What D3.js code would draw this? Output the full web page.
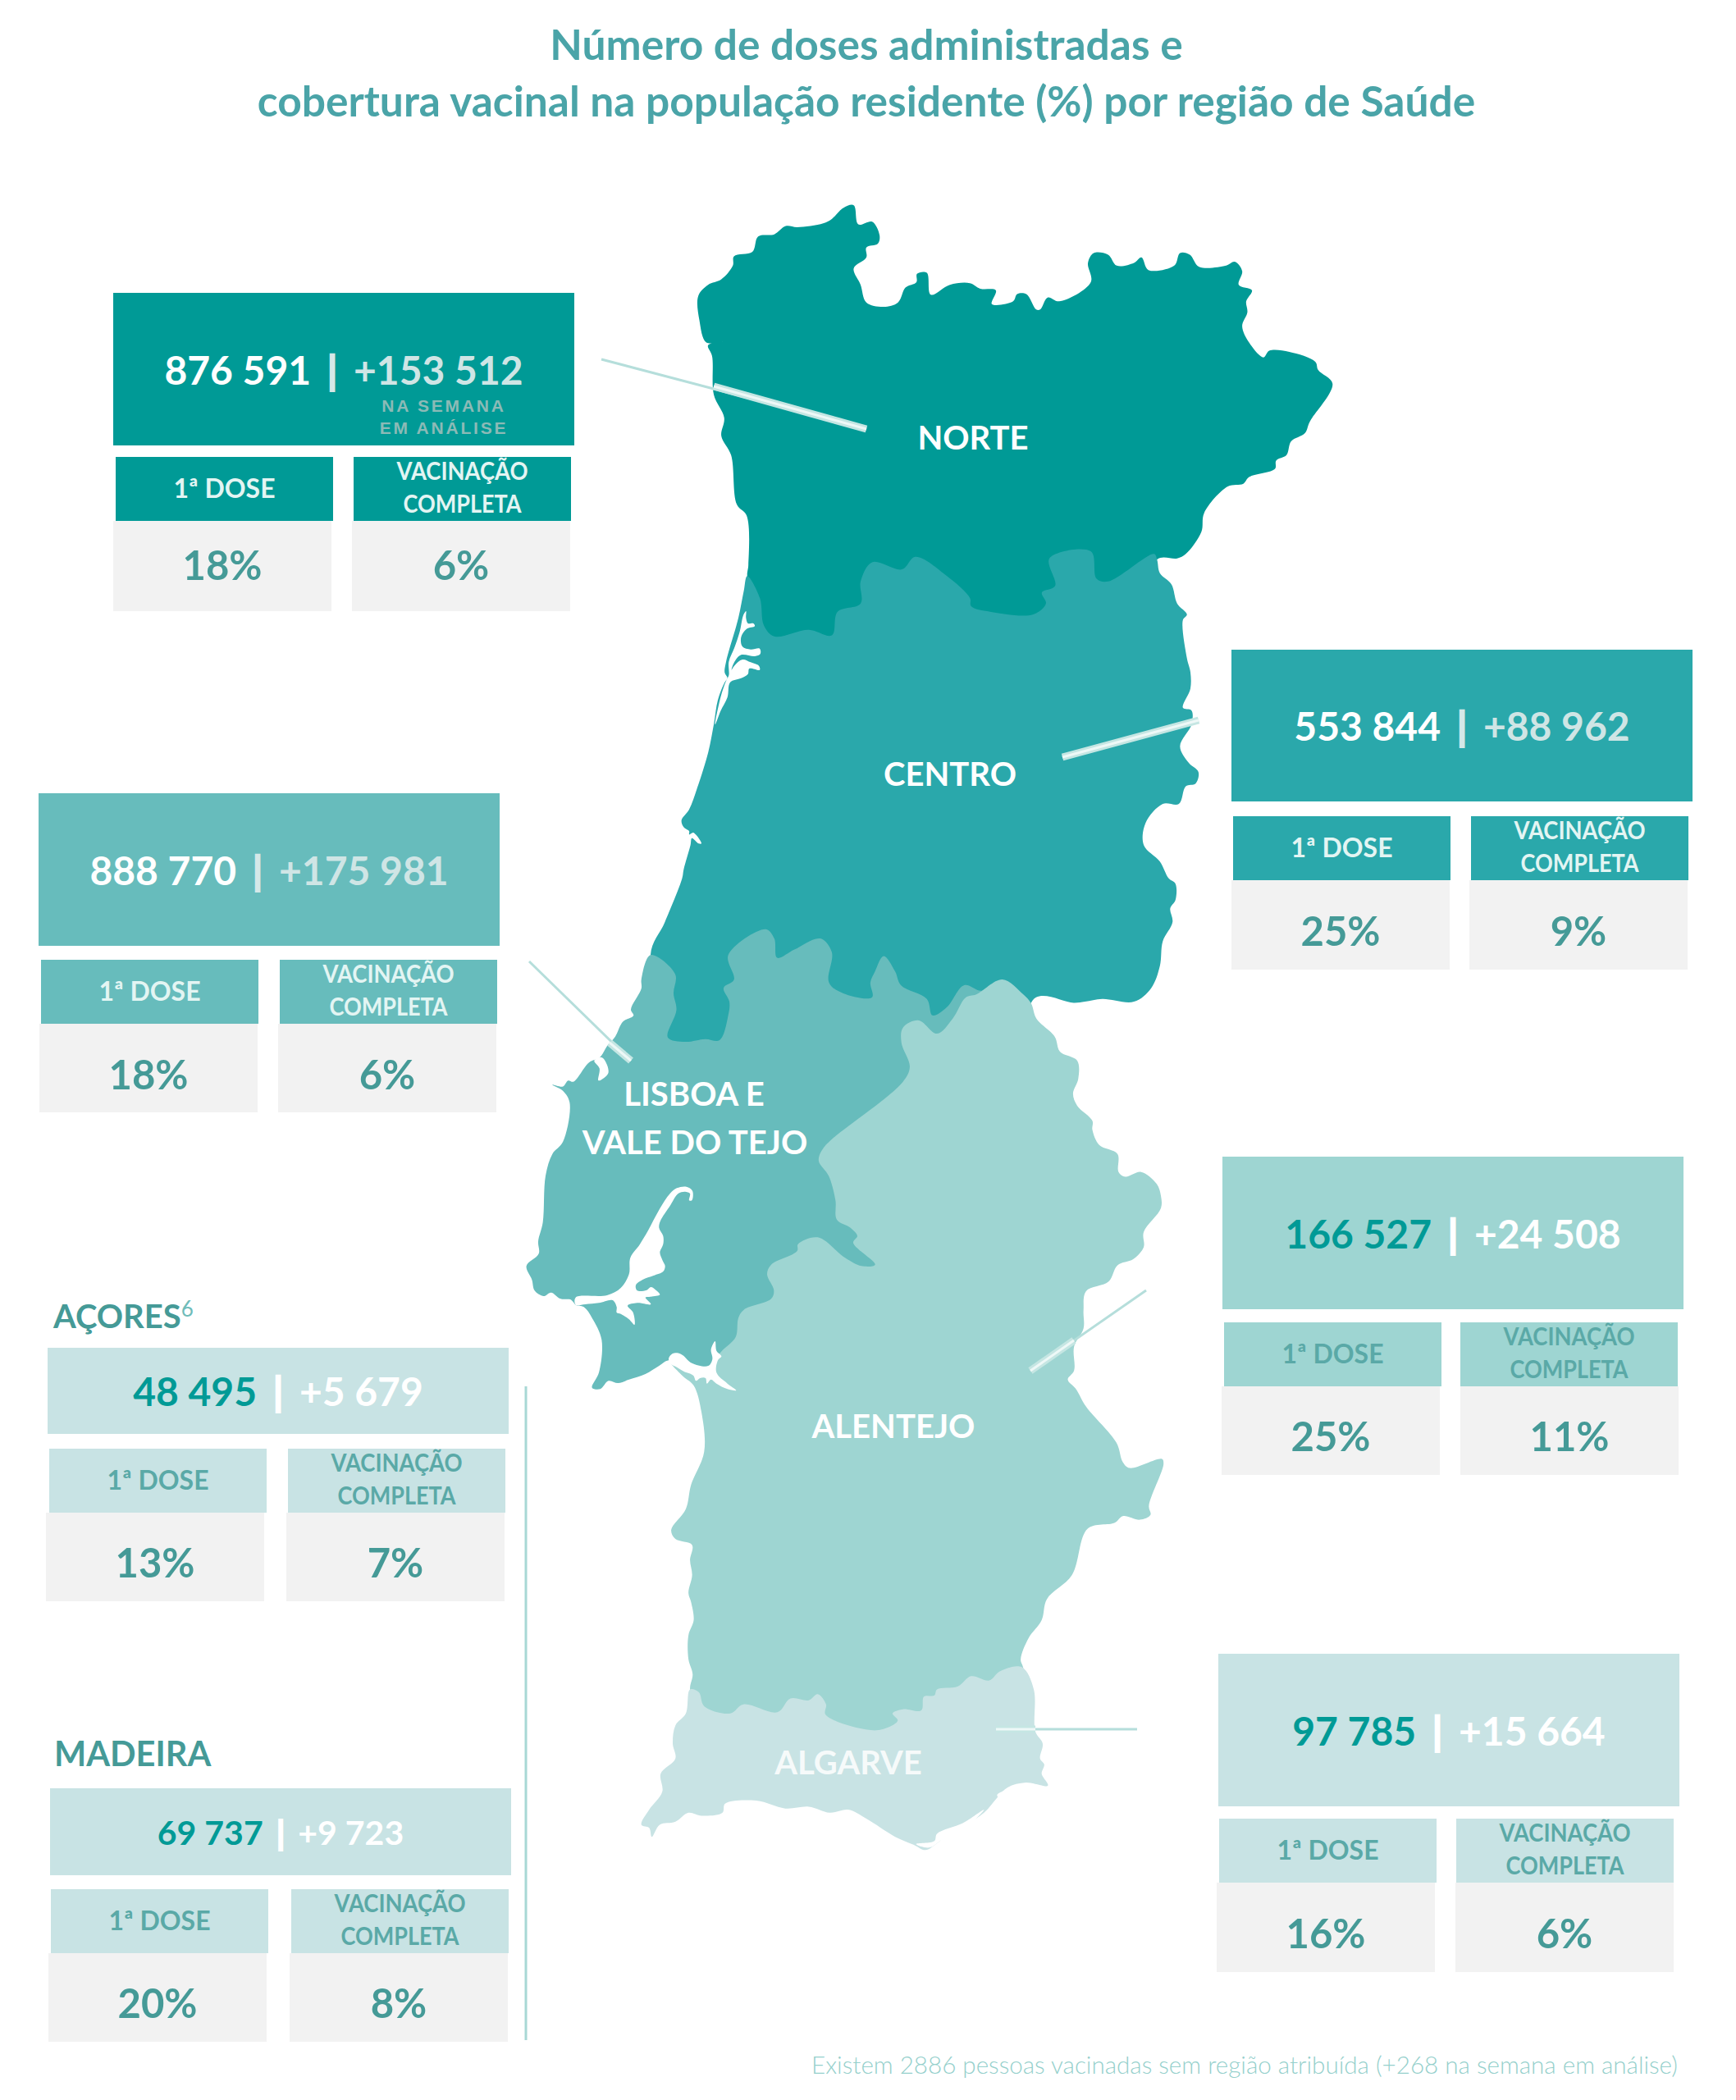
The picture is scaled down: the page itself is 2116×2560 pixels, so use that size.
<!DOCTYPE html>
<html>
<head>
<meta charset="utf-8">
<script src="https://cdn.jsdelivr.net/npm/d3@7"></script>
<style>
  html, body { margin: 0; background: #fff; }
  text { font-family: Lato, "Open Sans", sans-serif; }
</style>
</head>
<body>
<div id="chart"></div>
<script>
// Values
const regions = ["NORTE", "CENTRO", "LVT", "ALENTEJO", "ALGARVE", "AÇORES", "MADEIRA"];
const doses = [876591, 553844, 888770, 166527, 97785, 48495, 69737];
const weekly = [153512, 88962, 175981, 24508, 15664, 5679, 9723];
const firstDose = [18, 25, 18, 25, 16, 13, 20];
const fullVaccine = [6, 9, 6, 11, 6, 7, 8];

const titleLines = [
  "Número de doses administradas e",
  "cobertura vacinal na população residente (%) por região de Saúde"
];
const footnote = "Existem 2886 pessoas vacinadas sem região atribuída (+268 na semana em análise)";

// Map outlines, traced on overlapping sheets: N and S cover the whole country,
// T the Tejo/Sado area, A the Aveiro coast
const norteShape = [[628,45],[636,80],[660,75],[673,100],[670,115],[650,122],[650,140],[628,160],[640,190],[650,222],[680,230],[705,222],[718,195],[737,185],[738,170],[755,168],[762,208],[795,190],[830,187],[848,197],[875,200],[868,225],[905,220],[912,207],[928,207],[945,235],[952,235],[965,213],[985,220],[1040,185],[1035,150],[1045,132],[1070,135],[1085,155],[1115,150],[1128,140],[1140,163],[1185,155],[1195,132],[1212,135],[1228,157],[1275,155],[1290,148],[1303,165],[1297,190],[1320,200],[1310,220],[1312,240],[1303,265],[1315,295],[1340,322],[1350,310],[1385,312],[1430,330],[1435,345],[1460,370],[1420,440],[1412,460],[1388,475],[1380,500],[1362,510],[1360,525],[1315,540],[1305,552],[1278,557],[1237,605],[1232,640],[1205,680],[1190,688],[1155,690],[1100,900],[470,900],[455,780],[443,720],[445,700],[442,610],[425,590],[415,500],[398,465],[403,432],[385,390],[382,320],[375,300],[400,293],[372,295],[360,255],[358,210],[375,190],[398,180],[418,155],[420,138],[452,130],[462,102],[490,98],[510,83],[530,85],[575,78],[590,70],[610,50]];
const centroShape = [[443,720],[465,760],[472,810],[490,830],[550,818],[590,828],[600,785],[640,770],[640,730],[660,695],[712,708],[735,685],[790,720],[830,760],[832,775],[865,785],[940,790],[962,770],[955,750],[978,738],[968,688],[1040,675],[1050,725],[1070,730],[1150,680],[1155,690],[1160,715],[1180,735],[1190,770],[1207,790],[1200,800],[1207,870],[1213,895],[1213,925],[1200,960],[1215,965],[1215,990],[1195,1030],[1210,1060],[1227,1077],[1222,1098],[1205,1103],[1193,1135],[1165,1135],[1135,1170],[1132,1210],[1160,1240],[1175,1270],[1187,1280],[1187,1310],[1178,1325],[1182,1350],[1165,1385],[1160,1430],[1145,1470],[1115,1495],[1060,1490],[1030,1495],[1010,1497],[945,1487],[900,1580],[320,1580],[275,1410],[300,1350],[330,1270]];
const centroCoast = [[40,1020],[65,930],[70,905],[95,925],[105,925],[75,885],[60,892],[60,880],[40,865],[32,840],[60,800],[90,720],[130,590],[150,490],[165,400],[190,335],[200,320],[190,300],[195,260],[240,100],[260,0]];
const lvtTop = [[275,1410],[318,1445],[315,1480],[320,1510],[305,1560],[335,1568],[370,1563],[395,1565],[410,1520],[412,1495],[402,1470],[420,1455],[410,1410],[475,1363],[490,1380],[495,1415],[525,1400],[570,1380],[590,1405],[585,1460],[610,1480],[660,1487],[657,1460],[665,1440],[680,1412],[700,1440],[710,1465],[755,1490],[765,1520],[790,1505],[820,1465],[850,1475],[880,1458]];
const lvtHidden = [[850,350],[780,560]];
const lvtSouthCoast = [[1000,650],[750,780],[660,800],[600,790],[525,775],[490,795],[440,825],[380,845],[340,858],[305,850],[275,880],[245,875],[270,820],[280,700],[245,620],[215,580],[185,572],[175,560],[165,552],[130,550],[95,527],[68,540],[35,520],[25,480],[5,430],[50,385],[48,340],[65,270],[75,100]];
const lvtWestCoast = [[115,350],[135,330],[148,265],[135,245],[115,235],[135,238],[145,228],[155,230],[185,198],[205,190],[220,170],[235,155],[250,130],[270,120],[265,110],[285,75],[285,60]];
const alentejoTop = [[610,800],[690,790],[705,760],[720,740],[770,690],[780,620],[800,590],[900,550],[910,520],[885,460],[900,425],[995,375],[998,350],[1070,325],[1170,400],[1230,430],[1280,425],[1200,345],[1215,320],[1190,290],[1140,260],[1135,190],[1110,100],[1075,50],[1075,30],[1090,0]];
const alentejoShape = [[650,325],[785,230],[798,205],[782,165],[785,140],[815,128],[850,150],[880,125],[905,90],[925,85],[975,60],[1015,85],[1030,100],[1040,125],[1075,155],[1085,180],[1118,195],[1120,225],[1110,250],[1118,270],[1147,295],[1147,310],[1160,335],[1195,350],[1197,380],[1210,388],[1240,380],[1270,400],[1278,420],[1278,440],[1245,480],[1245,505],[1225,525],[1195,535],[1178,562],[1135,578],[1130,610],[1130,640],[1112,670],[1112,710],[1100,725],[1115,740],[1135,770],[1193,830],[1205,862],[1218,872],[1280,857],[1283,865],[1255,935],[1258,950],[1238,958],[1205,952],[1190,963],[1138,973],[1108,1050],[1060,1090],[1050,1125],[1025,1155],[1010,1190],[1015,1205],[1020,1320],[400,1320],[378,1240],[383,1215],[375,1190],[375,1150],[385,1125],[380,1095],[375,1080],[382,1050],[378,1025],[382,1000],[350,990],[342,975],[370,940],[380,900],[405,845],[400,780],[385,735],[365,720],[340,695]];
const algarveShape = [[378,1240],[395,1245],[405,1268],[455,1280],[480,1265],[545,1278],[570,1255],[605,1258],[622,1248],[638,1265],[637,1282],[735,1308],[775,1292],[765,1280],[785,1273],[820,1275],[825,1252],[845,1250],[850,1240],[890,1235],[915,1218],[950,1225],[970,1210],[1012,1203],[1035,1240],[1038,1310],[1052,1330],[1047,1355],[1055,1365],[1050,1380],[1062,1400],[1020,1395],[985,1403],[965,1420],[940,1445],[905,1465],[870,1482],[848,1497],[828,1507],[805,1498],[770,1485],[715,1455],[680,1440],[645,1445],[605,1435],[560,1438],[505,1425],[445,1430],[440,1445],[400,1450],[375,1445],[350,1460],[320,1465],[305,1485],[300,1470],[285,1465],[300,1440],[325,1410],[322,1380],[350,1355],[345,1330],[350,1300],[370,1280]];

// Water on top of the regions
const aveiroWater = [[268,75],[258,90],[245,150],[225,210],[205,260],[205,310],[195,330],[175,390],[155,490],[175,440],[200,390],[210,335],[250,320],[275,305],[280,285],[318,290],[315,275],[285,262],[255,252],[225,275],[215,290],[225,262],[250,235],[300,240],[320,232],[318,212],[285,215],[255,205],[250,170],[270,140],[300,130],[295,120],[275,120],[268,100]];
const tejoWater = [[185,545],[300,537],[350,510],[380,460],[385,400],[420,350],[450,300],[490,225],[530,165],[555,145],[590,140],[612,155],[610,190],[600,190],[603,165],[585,158],[560,165],[530,210],[495,265],[490,290],[505,320],[505,350],[493,380],[503,410],[512,430],[505,450],[470,465],[430,480],[405,500],[410,520],[445,518],[460,507],[475,515],[493,535],[460,542],[440,545],[460,570],[410,565],[375,575],[395,600],[400,645],[380,625],[350,605],[335,600],[335,580],[320,555],[270,565],[220,570],[185,572]];
const sadoWater = [[525,770],[540,750],[570,752],[610,785],[670,795],[685,770],[680,735],[695,705],[700,740],[718,760],[705,775],[700,820],[740,860],[772,885],[740,880],[700,860],[680,845],[665,860],[660,840],[640,840],[625,850],[615,830],[580,815],[555,800],[535,790]];
const obidosWater = [[195,195],[210,190],[222,215],[203,228],[205,208]];
const riaWater = [[810,1497],[845,1492],[850,1480],[900,1462],[940,1440],[905,1470],[860,1490],[835,1503]];
const riaWater2 = [[965,1415],[990,1405],[968,1420]];

const width = 2116;
const height = 2560;

const svg = d3.select("#chart").append("svg")
  .attr("width", width)
  .attr("height", height)
  .style("display", "block");

// Sheet scales
const sheet = (xd, xr, yd, yr) => {
  const x = d3.scaleLinear().domain([0, xd]).range(xr);
  const y = d3.scaleLinear().domain([0, yd]).range(yr);
  return pts => pts.map(d => [x(d[0]), y(d[1])]);
};
const north = sheet(1568, [600, 1700], 1568, [220, 1270]);
const south = sheet(1568, [600, 1600], 1568, [1150, 2300]);
const tejo = sheet(1380, [640, 1100], 960, [1400, 1720]);
const aveiro = sheet(420, [820, 960], 1020, [720, 1060]);

const shape = d3.line().curve(d3.curveCatmullRomClosed.alpha(0.5));

const mapColor = d3.scaleOrdinal()
  .domain(regions)
  .range(["#009a96", "#2aa8ab", "#67bcbc", "#9ed5d2", "#c8e3e4", "#c8e3e4", "#c8e3e4"]);

const mapLayers = [
  { key: "NORTE", pts: north(norteShape) },
  { key: "CENTRO", pts: north(centroShape).concat(aveiro(centroCoast)) },
  { key: "LVT", pts: north(lvtTop).concat(south(lvtHidden), tejo(lvtSouthCoast), south(lvtWestCoast)) },
  { key: "ALENTEJO", pts: tejo(alentejoTop).concat(south(alentejoShape)) },
  { key: "ALGARVE", pts: south(algarveShape) }
];

svg.append("g").selectAll("path")
  .data(mapLayers)
  .enter().append("path")
  .attr("d", d => shape(d.pts))
  .attr("fill", d => mapColor(d.key));

const water = [aveiro(aveiroWater), tejo(tejoWater), tejo(sadoWater), south(obidosWater), south(riaWater), south(riaWater2)];
svg.append("g").selectAll("path")
  .data(water)
  .enter().append("path")
  .attr("d", shape)
  .attr("fill", "#fff");

// Leader lines: thin part, then hollow bar
const leaders = [
  [[733, 438], [870, 471], [1056, 523]],
  [[1461, 878], [1461, 878], [1295, 923]],
  [[645, 1172], [743, 1271], [769, 1293]],
  [[1397, 1573], [1309, 1634], [1256, 1671]],
  [[1386, 2108], [1262, 2108], [1214, 2108]]
];
const leaderG = svg.append("g");
leaders.forEach(l => {
  leaderG.append("line")
    .attr("x1", l[0][0]).attr("y1", l[0][1]).attr("x2", l[2][0]).attr("y2", l[2][1])
    .attr("stroke", "#b5dedb").attr("stroke-width", 3);
  leaderG.append("line")
    .attr("x1", l[1][0]).attr("y1", l[1][1]).attr("x2", l[2][0]).attr("y2", l[2][1])
    .attr("stroke", "#c5e6e3").attr("stroke-width", 9);
  leaderG.append("line")
    .attr("x1", l[1][0]).attr("y1", l[1][1]).attr("x2", l[2][0]).attr("y2", l[2][1])
    .attr("stroke", "#eef8f7").attr("stroke-width", 3);
});

// Map labels
const mapLabels = [
  ["NORTE", 1186, 548],
  ["CENTRO", 1158, 958],
  ["LISBOA E", 846, 1348],
  ["VALE DO TEJO", 847, 1407],
  ["ALENTEJO", 1089, 1753],
  ["ALGARVE", 1034, 2163]
];
svg.append("g").selectAll("text")
  .data(mapLabels)
  .enter().append("text")
  .attr("x", d => d[1])
  .attr("y", d => d[2])
  .attr("text-anchor", "middle")
  .attr("font-size", 40)
  .attr("font-weight", 700)
  .attr("fill", "#fff")
  .attr("fill-opacity", (d, i) => i === 5 ? 0.85 : 1)
  .text(d => d[0]);

// Title
svg.append("g").selectAll("text")
  .data(titleLines)
  .enter().append("text")
  .attr("x", 1056)
  .attr("y", (d, i) => 73 + i * 69)
  .attr("text-anchor", "middle")
  .attr("font-size", 51.5)
  .attr("font-weight", 700)
  .attr("fill", "#4aa4a8")
  .text(d => d);

// Panels
const fmt = d3.formatLocale({ decimal: ",", thousands: " ", grouping: [3], currency: ["", ""] }).format(",d");
const panelBoxes = [
  { x: 138, y: 357, h: 186, hx: [141, 431], hy: 557, bx: [138, 429], bb: 745, fs: 48, gap: 8, pctDy: 17 },
  { x: 1501, y: 792, h: 185, hx: [1503, 1793], hy: 995, bx: [1501, 1791], bb: 1182, fs: 48, gap: 8, pctDy: 25 },
  { x: 47, y: 967, h: 186, hx: [50, 341], hy: 1170, bx: [48, 339], bb: 1356, fs: 48, gap: 8, pctDy: 26 },
  { x: 1490, y: 1410, h: 186, hx: [1492, 1780], hy: 1612, bx: [1489, 1780], bb: 1798, fs: 48, gap: 8, pctDy: 25 },
  { x: 1485, y: 2016, h: 186, hx: [1486, 1775], hy: 2217, bx: [1483, 1774], bb: 2404, fs: 48, gap: 8, pctDy: 25 },
  { x: 58, y: 1643, h: 105, hx: [60, 351], hy: 1766, bx: [56, 349], bb: 1952, fs: 48, gap: 8, pctDy: 25 },
  { x: 61, y: 2180, h: 106, hx: [62, 355], hy: 2303, bx: [59, 353], bb: 2489, fs: 41, gap: 6, pctDy: 25 }
];
const headWidths = { "1ª DOSE": 124, "VACINAÇÃO": 160, "COMPLETA": 144 };

panelBoxes.forEach((p, i) => {
  const g = svg.append("g");
  const fill = mapColor(regions[i]);
  const dark = i < 3;
  const mainW = 562;

  g.append("rect").attr("x", p.x).attr("y", p.y).attr("width", mainW).attr("height", p.h).attr("fill", fill);

  const num = g.append("text")
    .attr("x", p.x + mainW / 2)
    .attr("y", p.y + p.h / 2 + p.fs * 0.37 + 1)
    .attr("text-anchor", "middle")
    .attr("font-size", p.fs)
    .attr("font-weight", 700);
  const barColor = dark ? "#d5e8e8" : "#fff";
  num.append("tspan").attr("fill", dark ? "#fff" : "#009a96").text(fmt(doses[i]));
  num.append("tspan").attr("dx", p.gap).attr("fill", barColor).attr("stroke", barColor).attr("stroke-width", 2).text(" | ");
  num.append("tspan").attr("dx", p.gap).attr("fill", dark ? "#cfe5e5" : "#fff").text("+" + fmt(weekly[i]));

  // Bodies then headers, one pair per measure
  [firstDose[i], fullVaccine[i]].forEach((v, j) => {
    g.append("rect").attr("x", p.bx[j]).attr("y", p.hy + 78).attr("width", 266).attr("height", p.bb - p.hy - 78).attr("fill", "#f2f2f2");
    g.append("rect").attr("x", p.hx[j]).attr("y", p.hy).attr("width", 265).attr("height", 78).attr("fill", fill);
    g.append("text")
      .attr("x", p.bx[j] + 133)
      .attr("y", (p.hy + 78 + p.bb) / 2 + p.pctDy)
      .attr("text-anchor", "middle")
      .attr("font-size", 49)
      .attr("font-weight", 700)
      .attr("fill", "#459a97")
      .text(v + "%");

    const headColor = dark ? "#e3f5f3" : "#5aa9a7";
    const cx = p.hx[j] + 132.5;
    const headLines = j === 0 ? ["1ª DOSE"] : ["VACINAÇÃO", "COMPLETA"];
    headLines.forEach((t, k) => {
      g.append("text")
        .attr("x", cx)
        .attr("y", j === 0 ? p.hy + 50 : p.hy + 28 + k * 40)
        .attr("text-anchor", "middle")
        .attr("font-size", j === 0 ? 33 : 30)
        .attr("font-weight", 700)
        .attr("textLength", headWidths[t])
        .attr("lengthAdjust", "spacingAndGlyphs")
        .attr("fill", headColor)
        .text(t);
    });
  });
});

// "na semana em análise" note on the first panel
["NA SEMANA", "EM ANÁLISE"].forEach((t, i) => {
  svg.append("text")
    .attr("x", 541).attr("y", 502 + i * 27)
    .attr("text-anchor", "middle")
    .style("font-family", "'Liberation Sans'")
    .attr("font-size", 21)
    .attr("font-weight", 700)
    .attr("letter-spacing", 2.8)
    .attr("fill", "#8cbab6")
    .text(t);
});

// Island headings
const acores = svg.append("text").attr("x", 65).attr("y", 1619)
  .attr("font-size", 40).attr("font-weight", 700).attr("fill", "#459a97");
acores.append("tspan").text("AÇORES");
acores.append("tspan").attr("dy", -14).attr("font-size", 26).attr("font-weight", 400).attr("fill", "#6fbcb9").text("6");
svg.append("text").attr("x", 66).attr("y", 2153)
  .attr("font-size", 41.5).attr("font-weight", 700).attr("fill", "#459a97").text("MADEIRA");

// Divider beside the islands
svg.append("line")
  .attr("x1", 641).attr("y1", 1690).attr("x2", 641).attr("y2", 2487)
  .attr("stroke", "#a8d8d5").attr("stroke-width", 3);

// Footnote
svg.append("text")
  .attr("x", 2045).attr("y", 2528)
  .attr("text-anchor", "end")
  .attr("font-size", 29.6)
  .attr("font-weight", 300)
  .attr("fill", "#95d0cc")
  .text(footnote);
</script>
</body>
</html>
